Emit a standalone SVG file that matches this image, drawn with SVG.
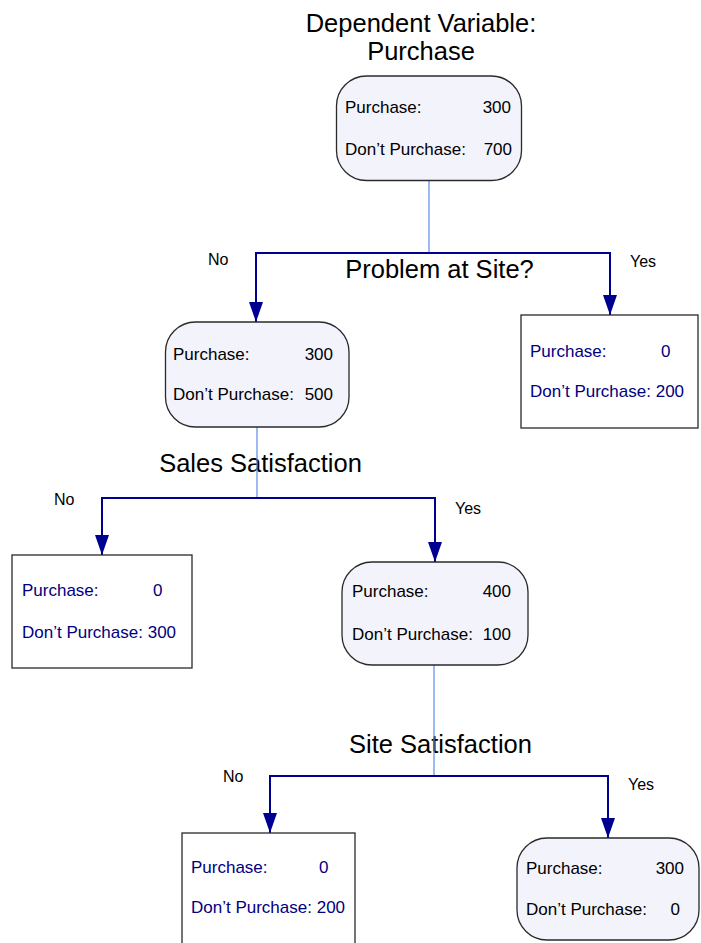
<svg xmlns="http://www.w3.org/2000/svg" width="701" height="943" viewBox="0 0 701 943">
  <style>
    .title { font-family: "Liberation Sans", Arial, sans-serif; font-size: 25.5px; fill: #000; }
    .lbl { font-family: "Liberation Sans", Arial, sans-serif; font-size: 16px; fill: #000; }
    .t { font-family: "Liberation Sans", Arial, sans-serif; font-size: 17px; fill: #000; }
    .tl { font-family: "Liberation Sans", Arial, sans-serif; font-size: 17px; fill: #000080; }
    .end { text-anchor: end; }
    .mid { text-anchor: middle; }
    .rnode { fill: #f3f3fc; stroke: #2a2a2a; stroke-width: 1.3; }
    .leaf { fill: #ffffff; stroke: #2a2a2a; stroke-width: 1.3; }
    .stem { stroke: #5a8ce6; stroke-width: 1.2; fill: none; }
    .branch { stroke: #000090; stroke-width: 2; fill: none; marker-end: url(#arrow); }
  </style>
  <defs>
    <marker id="arrow" viewBox="0 0 20 14" refX="20" refY="7" markerWidth="20" markerHeight="14" markerUnits="userSpaceOnUse" orient="auto">
      <path d="M0,0 L20,7 L0,14 z" fill="#000090"/>
    </marker>
  </defs>
  <rect width="701" height="943" fill="#ffffff"/>

  <!-- headings -->
  <g id="headings">
    <text class="title mid" x="421" y="32">Dependent Variable:</text>
    <text class="title mid" x="421" y="60">Purchase</text>
    <text class="title mid" x="439.5" y="278">Problem at Site?</text>
    <text class="title mid" x="260.5" y="472">Sales Satisfaction</text>
    <text class="title mid" x="440.5" y="753">Site Satisfaction</text>
  </g>

  <!-- connectors -->
  <g id="connectors">
    <line class="stem" x1="429" y1="181" x2="429" y2="253"/>
    <path class="branch" d="M429,253 H256 V322"/>
    <path class="branch" d="M429,253 H610 V315"/>

    <line class="stem" x1="257" y1="427" x2="257" y2="498"/>
    <path class="branch" d="M257,498 H102 V555"/>
    <path class="branch" d="M257,498 H435 V562"/>

    <line class="stem" x1="434" y1="665" x2="434" y2="776"/>
    <path class="branch" d="M434,776 H270 V833"/>
    <path class="branch" d="M434,776 H608 V838"/>

    <text class="lbl" x="208" y="265">No</text>
    <text class="lbl" x="630" y="267">Yes</text>
    <text class="lbl" x="54" y="505">No</text>
    <text class="lbl" x="455" y="514">Yes</text>
    <text class="lbl" x="223" y="782">No</text>
    <text class="lbl" x="628" y="790">Yes</text>
  </g>

  <!-- root -->
  <g id="node-root">
    <rect class="rnode" x="336.5" y="76" width="185" height="104.5" rx="30"/>
    <text class="t" x="345" y="113">Purchase:</text>
    <text class="t end" x="511" y="113">300</text>
    <text class="t" x="345" y="155">Don’t Purchase:</text>
    <text class="t end" x="512" y="155">700</text>
  </g>

  <!-- no problem at site -->
  <g id="node-site-no">
    <rect class="rnode" x="165.5" y="322" width="183.5" height="105" rx="30"/>
    <text class="t" x="173" y="360">Purchase:</text>
    <text class="t end" x="333" y="360">300</text>
    <text class="t" x="173" y="400">Don’t Purchase:</text>
    <text class="t end" x="333" y="400">500</text>
  </g>

  <!-- problem at site -->
  <g id="node-site-yes">
    <rect class="leaf" x="521" y="315" width="177" height="113"/>
    <text class="tl" x="530" y="357">Purchase:</text>
    <text class="tl" x="661" y="357">0</text>
    <text class="tl" x="530" y="397">Don’t Purchase: 200</text>
  </g>

  <!-- sales satisfaction: no -->
  <g id="node-sales-no">
    <rect class="leaf" x="12" y="555" width="180" height="113"/>
    <text class="tl" x="22" y="596">Purchase:</text>
    <text class="tl" x="153" y="596">0</text>
    <text class="tl" x="22" y="638">Don’t Purchase: 300</text>
  </g>

  <!-- sales satisfaction: yes -->
  <g id="node-sales-yes">
    <rect class="rnode" x="342" y="562" width="186" height="103" rx="30"/>
    <text class="t" x="352" y="597">Purchase:</text>
    <text class="t end" x="511" y="597">400</text>
    <text class="t" x="352" y="640">Don’t Purchase:</text>
    <text class="t end" x="511" y="640">100</text>
  </g>

  <!-- site satisfaction: no -->
  <g id="node-sitesat-no">
    <rect class="leaf" x="182" y="833" width="173" height="130"/>
    <text class="tl" x="191" y="873">Purchase:</text>
    <text class="tl" x="319" y="873">0</text>
    <text class="tl" x="191" y="913">Don’t Purchase: 200</text>
  </g>

  <!-- site satisfaction: yes -->
  <g id="node-sitesat-yes">
    <rect class="rnode" x="517" y="838" width="182" height="102" rx="30"/>
    <text class="t" x="526" y="874">Purchase:</text>
    <text class="t end" x="684" y="874">300</text>
    <text class="t" x="526" y="915">Don’t Purchase:</text>
    <text class="t end" x="680" y="915">0</text>
  </g>
</svg>
